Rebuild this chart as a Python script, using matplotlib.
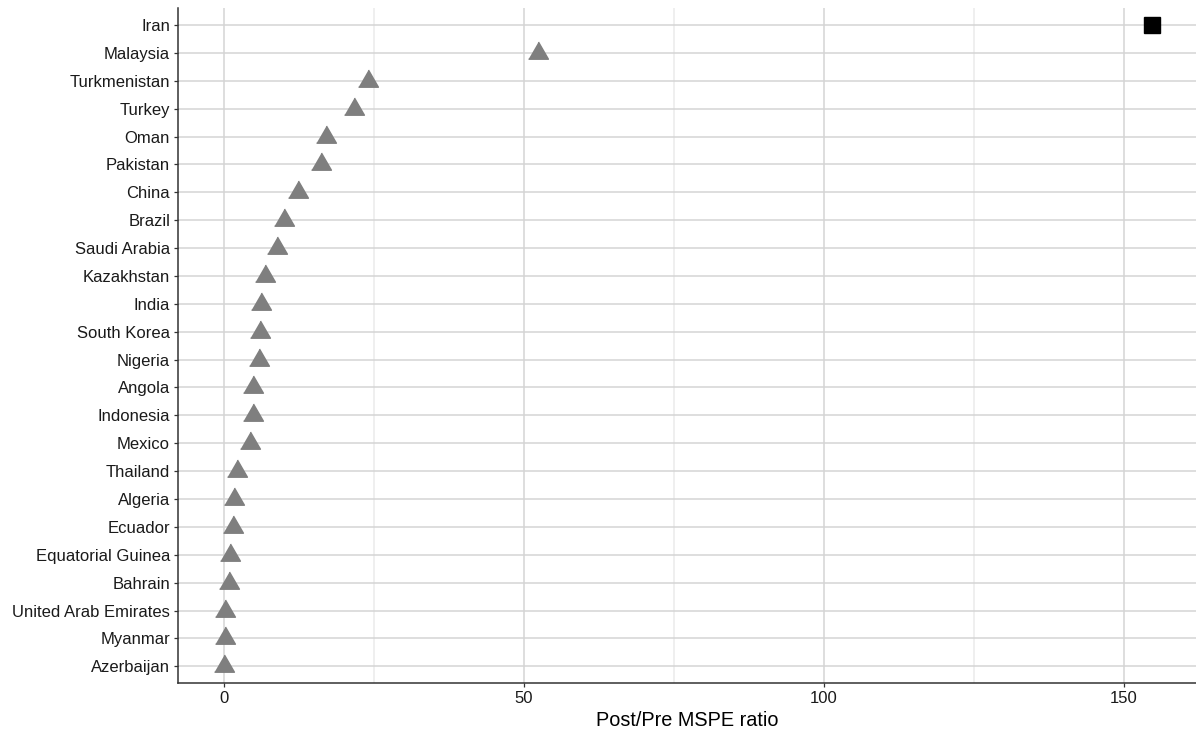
import matplotlib
matplotlib.use("Agg")
import matplotlib.pyplot as plt
import numpy as np

countries = ["Iran", "Malaysia", "Turkmenistan", "Turkey", "Oman", "Pakistan", "China",
             "Brazil", "Saudi Arabia", "Kazakhstan", "India", "South Korea", "Nigeria",
             "Angola", "Indonesia", "Mexico", "Thailand", "Algeria", "Ecuador",
             "Equatorial Guinea", "Bahrain", "United Arab Emirates", "Myanmar", "Azerbaijan"]
ratios = [154.8, 52.3, 23.9, 21.7, 17.0, 16.1, 12.3, 10.0, 8.8, 6.7, 6.1, 5.9, 5.8,
          4.7, 4.7, 4.2, 2.1, 1.6, 1.4, 1.0, 0.7, 0.15, 0.05, 0.0]
treated = ["Iran"]
x_ticks = [0, 50, 100, 150]
x_minor = [25, 75, 125]
x_label = "Post/Pre MSPE ratio"

plt.rcParams['font.family'] = ['Liberation Sans', 'DejaVu Sans']

fig = plt.figure(figsize=(11.96, 7.33), dpi=100)
ax = fig.add_axes([178/1196, 1 - 683/733, 1 - 178/1196, (683 - 8.3)/733])

n = len(countries)
ypos = np.arange(n)[::-1]  # first country at top

tri = [(-1, -0.577), (1, -0.577), (0, 1.155)]
for c, v, y in zip(countries, ratios, ypos):
    if c in treated:
        ax.plot(v, y, marker='s', markersize=11.5, color='black', linestyle='none', zorder=3)
    else:
        ax.plot(v, y, marker=tri, markersize=16.5, color='#7F7F7F', linestyle='none', zorder=3)

ax.set_yticks(ypos)
ax.set_yticklabels(countries)
ax.set_ylim(-0.6, n - 1 + 0.6)

xmax = max(ratios)
ax.set_xlim(-0.05 * xmax, xmax * 1.047)
ax.set_xticks(x_ticks)
ax.set_xticks(x_minor, minor=True)
ax.set_xticklabels([str(t) for t in x_ticks])

ax.grid(True, which='major', axis='both', color='#D4D4D4', linewidth=1.1, zorder=0)
ax.grid(True, which='minor', axis='x', color='#EBEBEB', linewidth=1.1, zorder=0)
ax.set_axisbelow(True)

for s in ['top', 'right']:
    ax.spines[s].set_visible(False)
for s in ['left', 'bottom']:
    ax.spines[s].set_color('#333333')
    ax.spines[s].set_linewidth(1.1)

ax.tick_params(axis='both', which='major', length=3.2, width=0.9, color='#333333',
               labelsize=12, labelcolor='#1a1a1a', pad=2.5)
ax.tick_params(axis='x', which='minor', length=0)

ax.set_xlabel(x_label, fontsize=14.3, color='#000000', labelpad=4)

fig.savefig("out.png", dpi=100)
